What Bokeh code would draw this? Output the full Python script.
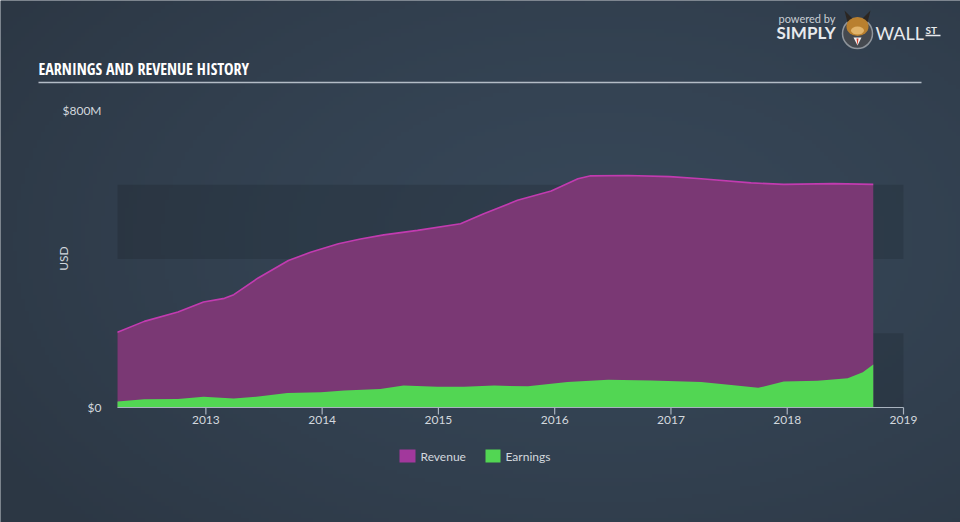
import math
import numpy as np
from bokeh.plotting import figure
from bokeh.models import BoxAnnotation
from bokeh.core.properties import value
from bokeh.embed import file_html
from bokeh.resources import INLINE

# ---------------- data ----------------
rev_years = [2012.24, 2012.47, 2012.76, 2012.98, 2013.16, 2013.24, 2013.45, 2013.71,
             2013.90, 2014.14, 2014.33, 2014.53, 2014.82, 2015.19, 2015.39, 2015.68,
             2015.97, 2016.20, 2016.31, 2016.63, 2016.99, 2017.26, 2017.69, 2017.97,
             2018.40, 2018.74]
revenue = [203, 232, 257, 284, 294, 304, 349, 396,
           418, 441, 454, 465, 477, 495, 522, 558,
           583, 616, 624, 625, 622, 616, 605, 601,
           603, 601]

earn_years = [2012.24, 2012.47, 2012.76, 2012.98, 2013.24, 2013.47, 2013.70, 2013.99,
              2014.19, 2014.50, 2014.70, 2014.99, 2015.22, 2015.48, 2015.77, 2016.11,
              2016.46, 2016.83, 2017.26, 2017.54, 2017.75, 2017.97, 2018.26, 2018.52,
              2018.65, 2018.74]
earnings = [16, 22, 23, 29, 24, 30, 39, 41,
            46, 50, 59, 56, 56, 59, 57, 69,
            75, 73, 69, 60, 53, 70, 72, 79,
            95, 116]

year_ticks = [2013, 2014, 2015, 2016, 2017, 2018, 2019]
year_labels = [str(y) for y in year_ticks]
y_ticks = [0, 800]
y_tick_labels = ["$0", "$800M"]
band_ranges = [(0, 200), (400, 600)]
legend_labels = ["Revenue", "Earnings"]
x_start, x_end = 2012.24, 2019.0

# ---------------- geometry (page pixels -> data) ----------------
W, H = 960, 522
FL, FR, FT, FB = 117, 903, 110, 407
XPX = (x_end - x_start) / (FR - FL)
YPX = (y_ticks[-1] - y_ticks[0]) / (FB - FT)

def dx(px):
    return x_start + (px - FL) * XPX

def dy(py):
    return (FB - py) * YPX

# ---------------- style ----------------
BG = "#334050"
REV_FILL = "#7a3874"
REV_LINE = "#c23bb0"
REV_SWATCH = "#a2389c"
EARN = "#52d653"
TXT = "#d3d8de"
AXIS = "#a9b3bf"
FONT = "Lato"

p = figure(width=W, height=H, output_backend="svg", toolbar_location=None,
           x_range=(dx(0), dx(W)), y_range=(dy(H), dy(0)),
           min_border=0, min_border_left=0, min_border_right=0,
           min_border_top=0, min_border_bottom=0)
p.axis.visible = False
p.grid.visible = False
p.background_fill_color = BG
p.border_fill_color = BG
p.outline_line_color = None

# soft radial background shading
gw, gh = 240, 131
gx = (np.arange(gw) + 0.5) / gw * W
gy = (np.arange(gh) + 0.5) / gh * H
GX, GY = np.meshgrid(gx, gy)
t = np.clip(np.sqrt(((GX - 600) / 720) ** 2 + ((GY - 240) / 430) ** 2), 0, 1) ** 1.4
c0 = np.array([0x37, 0x47, 0x58], float)
c1 = np.array([0x2c, 0x37, 0x44], float)
img = np.zeros((gh, gw), dtype=np.uint32)
view = img.view(dtype=np.uint8).reshape((gh, gw, 4))
for k in range(3):
    view[:, :, k] = (c0[k] + (c1[k] - c0[k]) * t).astype(np.uint8)
view[:, :, 3] = 255
img = img[::-1]  # row 0 = bottom
p.image_rgba(image=[img], x=dx(0), y=dy(H), dw=dx(W) - dx(0), dh=dy(0) - dy(H),
             level="image")

# background bands within the plotting area
for b0, b1 in band_ranges:
    p.add_layout(BoxAnnotation(left=x_start, right=x_end, bottom=b0, top=b1,
                               fill_color="#000000", fill_alpha=0.12, line_color=None,
                               level="underlay"))

# series
p.varea(x=rev_years, y1=[0] * len(revenue), y2=revenue, fill_color=REV_FILL)
p.line(rev_years, revenue, line_color=REV_LINE, line_width=1.6)
p.varea(x=earn_years, y1=[0] * len(earnings), y2=earnings, fill_color=EARN)

# x axis
p.segment(x0=[x_start], y0=[0], x1=[x_end], y1=[0], line_color=AXIS, line_width=1.2)
p.segment(x0=year_ticks, y0=[0] * len(year_ticks), x1=year_ticks,
          y1=[dy(FB + 7)] * len(year_ticks), line_color=AXIS, line_width=1.2)
p.text(x=year_ticks, y=[dy(419)] * len(year_ticks), text=year_labels,
       text_color=TXT, text_font=value(FONT), text_font_size="12px",
       text_align="center", text_baseline="middle")

# y axis labels
p.text(x=[dx(101)] * len(y_ticks), y=y_ticks, text=y_tick_labels,
       text_color=TXT, text_font=value(FONT), text_font_size="12px",
       text_align="right", text_baseline="middle")
p.text(x=[dx(63)], y=[dy(258)], text=["USD"], angle=math.pi / 2,
       text_color=TXT, text_font=value(FONT), text_font_size="12px",
       text_align="center", text_baseline="middle")

# title + rule
p.text(x=[dx(38)], y=[dy(68)], text=["EARNINGS AND REVENUE HISTORY"],
       text_color="#ffffff", text_font=value("Open Sans Condensed"),
       text_font_style="bold", text_font_size="16px",
       text_align="left", text_baseline="middle")
p.segment(x0=[dx(38)], y0=[dy(82)], x1=[dx(921)], y1=[dy(82)],
          line_color="#b3bcc6", line_width=1.5)

# legend
p.quad(left=[dx(399), dx(485)], right=[dx(415), dx(500)],
       top=[dy(449), dy(449)], bottom=[dy(462), dy(462)],
       fill_color=[REV_SWATCH, EARN], line_color=None)
p.text(x=[dx(420), dx(505)], y=[dy(456), dy(456)], text=legend_labels,
       text_color=TXT, text_font=value(FONT), text_font_size="12px",
       text_align="left", text_baseline="middle")

# logo
p.text(x=[dx(778)], y=[dy(18)], text=["powered by"], text_color="#c9ced4",
       text_font=value(FONT), text_font_size="11px", text_baseline="middle")
p.text(x=[dx(776)], y=[dy(32)], text=["SIMPLY"], text_color="#e8eaed",
       text_font=value(FONT), text_font_style="bold", text_font_size="17px",
       text_baseline="middle")
p.text(x=[dx(875)], y=[dy(32)], text=["WALL"], text_color="#e8eaed",
       text_font=value(FONT), text_font_size="18px", text_baseline="middle")
p.text(x=[dx(925)], y=[dy(29)], text=["ST"], text_color="#e8eaed",
       text_font=value(FONT), text_font_style="bold", text_font_size="10px",
       text_baseline="middle")
p.segment(x0=[dx(925)], y0=[dy(35)], x1=[dx(940)], y1=[dy(35)],
          line_color="#e8eaed", line_width=1.5)
# bull badge
p.ellipse(x=[dx(857)], y=[dy(33)], width=[30], height=[30],
          width_units="screen", height_units="screen",
          fill_color="#45494f", line_color="#8e949b", line_width=1.5)
p.patch(x=[dx(847), dx(844), dx(852)], y=[dy(22), dy(10), dy(18)],
        fill_color="#2b2622", line_color=None)
p.patch(x=[dx(867), dx(870), dx(862)], y=[dy(22), dy(10), dy(18)],
        fill_color="#2b2622", line_color=None)
p.ellipse(x=[dx(857)], y=[dy(26)], width=[22], height=[19],
          width_units="screen", height_units="screen",
          fill_color="#b9802f", line_color=None)
p.ellipse(x=[dx(857)], y=[dy(30)], width=[13], height=[8],
          width_units="screen", height_units="screen",
          fill_color="#e2b46a", line_color=None)
p.patch(x=[dx(853), dx(861), dx(857)], y=[dy(37), dy(37), dy(45)],
        fill_color="#f2f2f2", line_color=None)
p.patch(x=[dx(856), dx(858), dx(857)], y=[dy(38), dy(38), dy(45)],
        fill_color="#d8402c", line_color=None)

open("out.html", "w").write(file_html(p, INLINE))
